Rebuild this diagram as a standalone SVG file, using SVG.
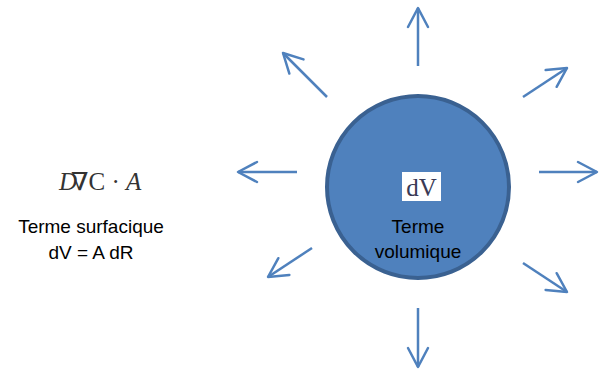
<svg xmlns="http://www.w3.org/2000/svg" width="605" height="375" viewBox="0 0 605 375">
<defs>
<marker id="ah" viewBox="0 0 12 12" refX="11" refY="6" markerWidth="12" markerHeight="12" markerUnits="userSpaceOnUse" orient="auto" overflow="visible">
<path d="M-8,-4 L11,6 L-8,16" fill="none" stroke="#4F81BD" stroke-width="2.5" stroke-linecap="round" stroke-linejoin="round"/>
</marker>
<style>
.arr{stroke:#4F81BD;stroke-width:2.5;fill:none;marker-end:url(#ah)}
.lbl{font-family:"Liberation Sans","Open Sans",sans-serif;font-size:19px;fill:#000;text-anchor:middle}
.math{font-family:"Liberation Serif","DejaVu Serif",serif;font-size:25px;fill:#333}
</style>
</defs>
<rect width="605" height="375" fill="#fff"/>
<g id="connectors">
<line class="arr" x1="418" y1="66" x2="418" y2="8"/>
<line class="arr" x1="418" y1="308" x2="418" y2="367"/>
<line class="arr" x1="297" y1="172" x2="238" y2="172"/>
<line class="arr" x1="539" y1="172" x2="597" y2="172"/>
<line class="arr" x1="327" y1="97" x2="283" y2="53"/>
<line class="arr" x1="523" y1="97" x2="567" y2="68"/>
<line class="arr" x1="312" y1="248" x2="268" y2="277"/>
<line class="arr" x1="523" y1="263" x2="567" y2="292"/>
</g>
<g id="volume">
<circle cx="418" cy="187" r="91" fill="#4F81BD" stroke="#3A6191" stroke-width="4"/>
<rect x="402" y="172" width="39" height="29" fill="#fff"/>
<text x="421.5" y="196" class="math" text-anchor="middle" style="fill:#3a3a55">dV</text>
<text x="418" y="233" class="lbl">Terme</text>
<text x="418" y="258" class="lbl">volumique</text>
</g>
<g id="surface">
<text x="59" y="190" class="math"><tspan font-style="italic">D</tspan><tspan dx="-6">∇</tspan><tspan>C · </tspan><tspan font-style="italic">A</tspan></text>
<text x="91" y="233" class="lbl">Terme surfacique</text>
<text x="91" y="259" class="lbl">dV = A dR</text>
</g>
</svg>
